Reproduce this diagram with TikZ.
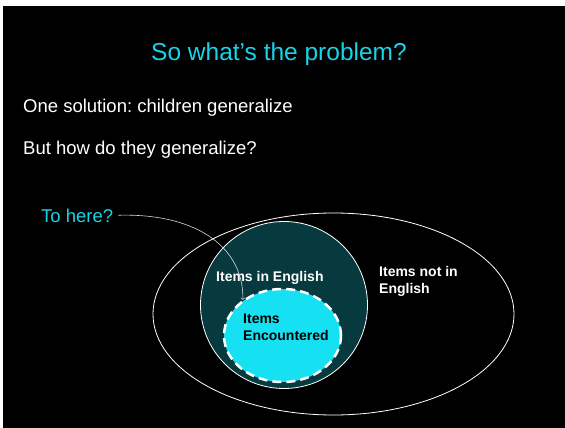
\documentclass[tikz,border=0pt]{standalone}
\usepackage{fontspec}
\setmainfont{Liberation Sans}
\usetikzlibrary{shapes.geometric}
\frenchspacing
\definecolor{tuerkis}{RGB}{24,212,232}
\definecolor{hellblau}{RGB}{22,225,242}
\definecolor{dunkelgruen}{RGB}{6,58,62}
\tikzset{
    menge/.style={ellipse, inner sep=0pt, draw=white, line width=0.8pt},
    titel/.style={text=tuerkis, anchor=base, inner sep=0pt, font=\fontsize{24.5}{29}\selectfont},
    zeile/.style={text=white, anchor=base west, inner sep=0pt, font=\fontsize{18.5}{22}\selectfont},
    etikett/.style={anchor=base west, inner sep=0pt, align=left, font=\fontsize{14}{17}\selectfont\bfseries}
}
\begin{document}
\begin{tikzpicture}[x=1pt, y=-1pt]
        % Hintergrund
        \useasboundingbox[fill=white] (0,0) rectangle (565,428);
        \fill[black] (3,6) rectangle (565,428);
        % Mengen
        \node[menge, minimum width=361pt, minimum height=202pt] (aussen) at (333.5,314) {};
        \node[menge, circle, fill=dunkelgruen, minimum size=167pt] (englisch) at (284,305) {};
        \node[menge, fill=hellblau, minimum width=117pt, minimum height=93pt,
            line width=2.5pt, dash pattern=on 9pt off 5pt] (gesehen) at (282.5,335.5) {};
        % Texte (bei zwei Zeilen: Grundlinie der letzten Zeile)
        \node[titel] (titel) at (279,60) {So what’s the problem?};
        \node[zeile] (loesung) at (23,113) {One solution: children generalize};
        \node[zeile] (frage) at (23,154) {But how do they generalize?};
        \node[zeile, text=tuerkis] (hier) at (41,222) {To here?};
        \node[etikett, text=white] (drin) at (216,281) {Items in English};
        \node[etikett, text=white] (draussen) at (379,293) {Items not in\\English};
        \node[etikett, text=black] (gesehentext) at (243,340) {Items\\Encountered};
        % Pfeil
        \draw[->, white!85!black, line width=0.6pt, shorten <=5pt]
            (hier.east) .. controls (200,213) and (244,250) .. (gesehen.138);
\end{tikzpicture}
\end{document}
